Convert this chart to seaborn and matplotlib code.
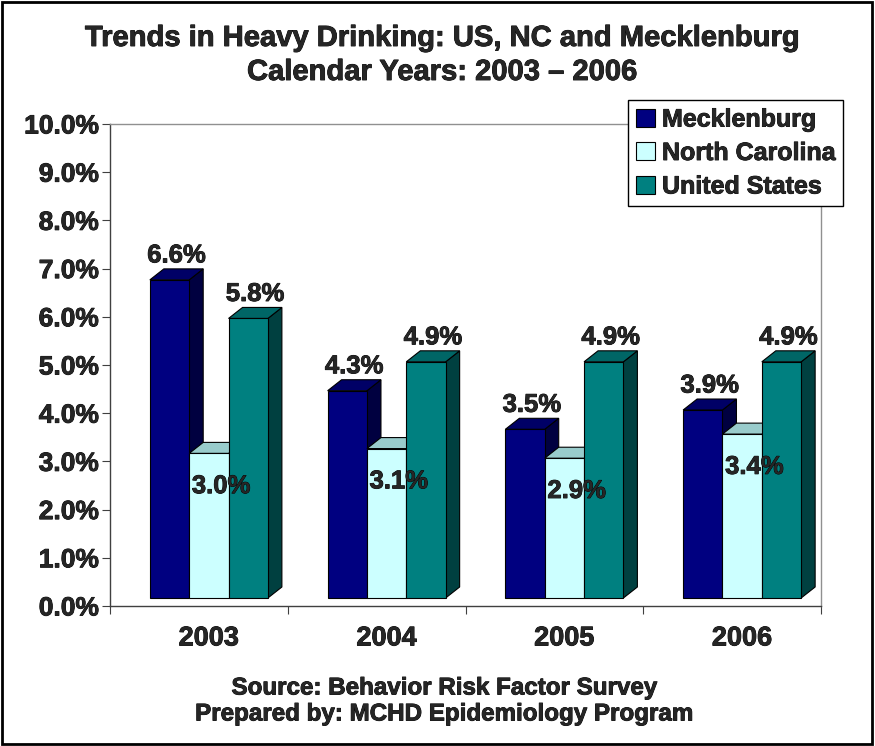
import numpy as np
import pandas as pd
import seaborn as sns
import matplotlib.pyplot as plt
import matplotlib.patheffects as pe
from matplotlib.patches import Polygon, Patch, Rectangle
from matplotlib.transforms import ScaledTranslation

# data
years = ["2003", "2004", "2005", "2006"]
regions = ["Mecklenburg", "North Carolina", "United States"]
mecklenburg = [6.6, 4.3, 3.5, 3.9]
north_carolina = [3.0, 3.1, 2.9, 3.4]
united_states = [5.8, 4.9, 4.9, 4.9]

front_colors = ["#000080", "#CCFFFF", "#008080"]
top_colors = ["#000066", "#99CCCC", "#006666"]
side_colors = ["#000040", "#80B3B3", "#004040"]

df = pd.DataFrame({
    "year": years * 3,
    "region": np.repeat(regions, len(years)),
    "value": mecklenburg + north_carolina + united_states,
})

sns.set_style("white")
plt.rcParams["font.family"] = ["Liberation Sans", "DejaVu Sans"]
plt.rcParams["font.weight"] = "bold"

# slightly heavier text, like the old excel rendering
heavy = [pe.withStroke(linewidth=0.6, foreground="black")]

W, H = 875, 746
fig = plt.figure(figsize=(W / 100, H / 100), dpi=100)
ax = fig.add_axes([110 / W, 140 / H, 711 / W, 482 / H])

sns.barplot(data=df, x="year", y="value", hue="region", hue_order=regions,
            palette=front_colors, saturation=1, width=0.664,
            edgecolor="black", linewidth=0.8, legend=False, ax=ax)
ax.set_xlim(-0.5, 3.5)
ax.set_ylim(0, 10)

# fake 3d depth (pixels -> data units)
px_x = 711 / 4
px_y = 482 / 10
dx = 14 / px_x
dy = 11 / px_y
shift = ScaledTranslation(0.10, 0.08, fig.dpi_scale_trans)
lifted = ax.transData + shift

for i, cont in enumerate(ax.containers):
    for bar in cont:
        x0, w, h = bar.get_x(), bar.get_width(), bar.get_height()
        bar.set_transform(lifted)
        bar.set_zorder(3 + i)
        side = Polygon([(x0 + w, 0), (x0 + w + dx, dy), (x0 + w + dx, h + dy), (x0 + w, h)],
                       closed=True, fc=side_colors[i], ec="black", lw=0.8,
                       transform=lifted, zorder=2.5 + i)
        top = Polygon([(x0, h), (x0 + dx, h + dy), (x0 + w + dx, h + dy), (x0 + w, h)],
                      closed=True, fc=top_colors[i], ec="black", lw=0.8,
                      transform=lifted, zorder=2.6 + i)
        ax.add_patch(side)
        ax.add_patch(top)
        xc = x0 + w / 2 + dx / 2
        if i == 1:
            t = ax.text(xc + 0.03, h - 0.68, f"{h:.1f}%", ha="center", va="center",
                        fontsize=18.5, fontweight="bold", transform=lifted, zorder=10)
        else:
            t = ax.text(xc, h + dy + 0.03, f"{h:.1f}%", ha="center", va="bottom",
                        fontsize=18.5, fontweight="bold", transform=lifted, zorder=10)
        t.set_path_effects(heavy)

# axes styling
ax.set_xlabel("")
ax.set_ylabel("")
ax.set_yticks(range(0, 11))
ax.set_yticklabels([f"{v:.1f}%" for v in range(0, 11)], fontsize=19, fontweight="bold")
# year labels sit under the (shifted) bar groups
ax.set_xticks(np.arange(len(years)) + 10 / px_x)
ax.set_xticklabels(years, fontsize=19.5, fontweight="bold")
for lab in ax.get_xticklabels() + ax.get_yticklabels():
    lab.set_path_effects(heavy)
ax.set_xticks([-0.5, 0.5, 1.5, 2.5, 3.5], minor=True)
ax.tick_params(axis="y", length=6, width=0.8, direction="out", pad=2, color="#404040", left=True)
ax.tick_params(axis="x", which="major", length=0, pad=14)
ax.tick_params(axis="x", which="minor", length=6, width=0.8, direction="out", color="#404040", bottom=True)
for s in ["left", "bottom"]:
    ax.spines[s].set_color("#404040")
    ax.spines[s].set_linewidth(1)
for s in ["top", "right"]:
    ax.spines[s].set_color("#909090")
    ax.spines[s].set_linewidth(1)

handles = [Patch(fc=c, ec="black", lw=0.8) for c in front_colors]
leg = fig.legend(handles, regions, loc="upper right",
                 bbox_to_anchor=(843 / W, 1 - 100 / H), frameon=True, fancybox=False,
                 edgecolor="black", framealpha=1, fontsize=18,
                 handlelength=0.75, handleheight=0.75, handletextpad=0.3,
                 borderpad=0.3, labelspacing=0.38, borderaxespad=0)
for t in leg.get_texts():
    t.set_fontweight("bold")
    t.set_path_effects(heavy)
leg.get_frame().set_linewidth(1)

titles = [
    (38, "Trends in Heavy Drinking: US, NC and Mecklenburg", 21),
    (72, "Calendar Years: 2003 \u2013 2006", 21),
    (688, "Source: Behavior Risk Factor Survey", 17.4),
    (714, "Prepared by: MCHD Epidemiology Program", 17.4),
]
for ypx, txt, fs in titles:
    xc = 442 if ypx < 100 else 444
    fig.text(xc / W, 1 - ypx / H, txt, ha="center", va="center",
             fontsize=fs, fontweight="bold", path_effects=heavy)

fig.patches.append(Rectangle((0.002, 0.003), 0.995, 0.994, transform=fig.transFigure,
                             fill=False, ec="black", lw=2))

fig.savefig("out.png", dpi=100)
